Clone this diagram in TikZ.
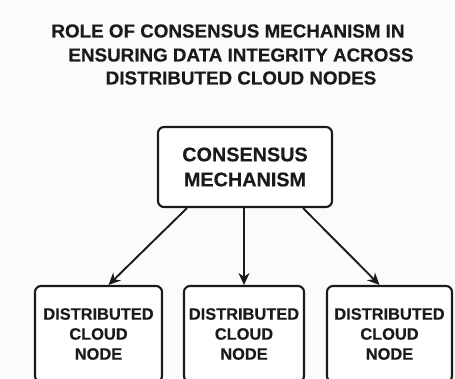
\documentclass[tikz,border=0pt]{standalone}
\usepackage{fontspec}
\setmainfont{Liberation Sans}
\newfontfamily\heavy{Liberation Sans Bold}[RawFeature={embolden=0.35}]
\usetikzlibrary{arrows.meta}
\definecolor{ink}{HTML}{1A1A1A}
\definecolor{paper}{HTML}{FBFBFB}
\begin{document}
\begin{tikzpicture}[x=1pt,y=-1pt,
  titletext/.style={font=\heavy\fontsize{18.8}{22}\selectfont, text=ink, inner sep=0pt},
  headbox/.style={draw=ink, line width=2.1pt, rounded corners=6pt, fill=white,
    minimum width=174pt, minimum height=80pt, align=center, text=ink,
    font=\heavy\fontsize{19.8}{25}\selectfont},
  nodebox/.style={draw=ink, line width=2.1pt, rounded corners=6pt, fill=white,
    minimum height=96pt, align=center, text=ink,
    font=\heavy\fontsize{16.4}{20}\selectfont, inner sep=1pt},
  link/.style={draw=ink, line width=1.9pt, -{Stealth[length=12pt,width=11pt]}}]
  \useasboundingbox (0,0) rectangle (455,378);
  \fill[paper] (0,0) rectangle (455,378);
  \clip (0,0) rectangle (455,378);

  % title
  \node[titletext] (t1) at (228,31) {ROLE OF CONSENSUS MECHANISM IN};
  \node[titletext] (t2) at (241,55) {ENSURING DATA INTEGRITY ACROSS};
  \node[titletext] (t3) at (241,78) {DISTRIBUTED CLOUD NODES};

  % consensus box
  \node[headbox] (cm) at (245,167) {CONSENSUS\\MECHANISM};

  % cloud nodes (boxes run past the lower edge)
  \node[nodebox, minimum width=127pt] (n1) at (98.5,334) {DISTRIBUTED\\CLOUD\\NODE};
  \node[nodebox, minimum width=120pt] (n2) at (244,334) {DISTRIBUTED\\CLOUD\\NODE};
  \node[nodebox, minimum width=125pt] (n3) at (389.5,334) {DISTRIBUTED\\CLOUD\\NODE};

  % connectors
  \draw[link] ([xshift=-58pt]cm.south) -- ([xshift=10pt]n1.north);
  \draw[link] ([xshift=-1pt]cm.south) -- (n2.north);
  \draw[link] ([xshift=58pt]cm.south) -- ([xshift=-10pt]n3.north);
\end{tikzpicture}
\end{document}
